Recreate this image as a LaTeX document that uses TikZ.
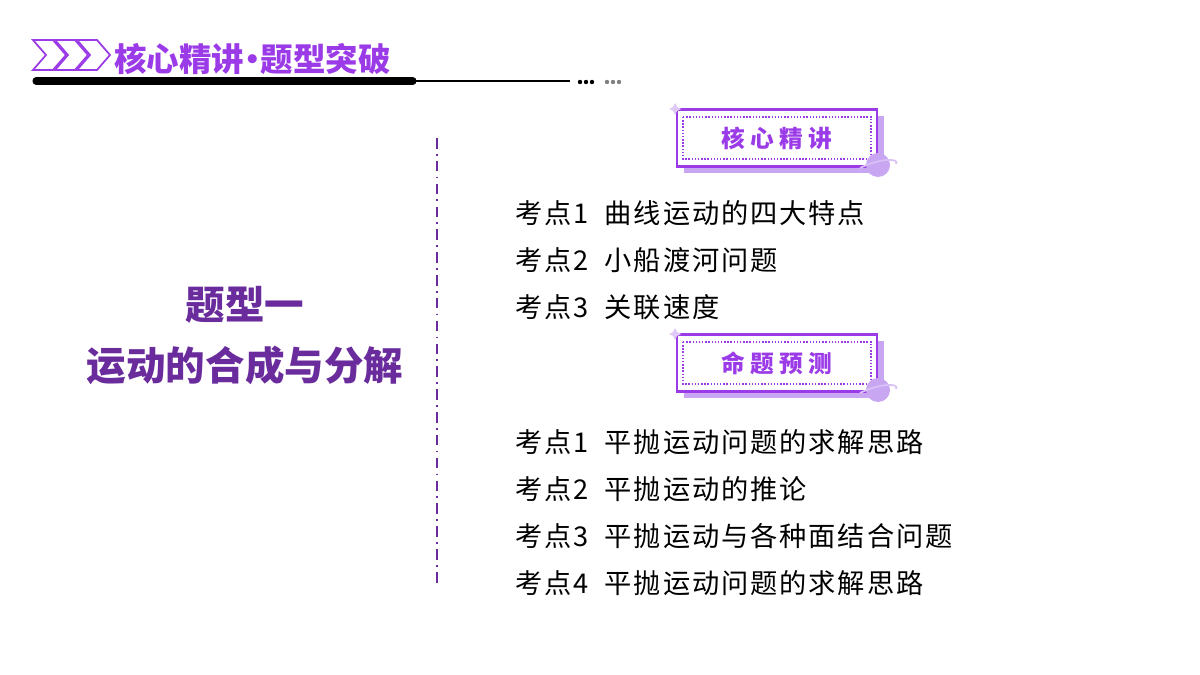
\documentclass[tikz,border=0pt]{standalone}
\usepackage{fontspec}
\setmainfont{Noto Sans CJK SC}
\newfontfamily\itemfont[LetterSpace=7]{Noto Sans CJK SC}
\definecolor{vio}{HTML}{9B3BE8}
\definecolor{dvio}{HTML}{6A2C9C}
\definecolor{lvio}{HTML}{C9A6F2}
\tikzset{
 item/.style={anchor=west,font=\itemfont\fontsize{15.5}{17}\selectfont,inner sep=0},
 badge/.style={draw=vio,line width=1.2pt,fill=white,minimum width=4cm,minimum height=1.14cm},
 btext/.style={font=\fontsize{13.5}{14}\bfseries\selectfont,text=vio},
 big/.style={font=\fontsize{22.5}{24}\bfseries\selectfont,text=dvio},
}
\begin{document}
\begin{tikzpicture}[x=0.02cm,y=-0.02cm]
\useasboundingbox (0,0) rectangle (1200,675);
% chevrons
\foreach \dx in {0,22,44}{
 \draw[vio,line width=1pt] (33+\dx,40)--(53+\dx,40)--(66+\dx,55)--(53+\dx,70)--(33+\dx,70)--(46+\dx,55)--cycle;}
\node[anchor=west,inner sep=0,font=\fontsize{18.5}{20}\bfseries\selectfont,text=vio] (title) at (114,59) {核心精讲\kern-0.25em·\kern-0.25em 题型突破};
\draw[line width=4pt,line cap=round] (36,81)--(413,81);
\draw[line width=1pt] (413,81)--(570,81);
\foreach \x in {580,586,592} \fill (\x,82) circle (2.2);
\foreach \x in {607,613,619} \fill[gray] (\x,82) circle (2.2);
% vertical
\draw[dvio,line width=1.2pt,dash pattern=on 6pt off 3pt on 1pt off 3pt] (437,138)--(437,585);
\node[big] (l1) at (245,305) {题型一};
\node[big] (l2) at (245,365) {运动的合成与分解};
% badges
\foreach \y/\t/\n in {138/核 心 精 讲/b1,363/命 题 预 测/b2}{
 \fill[lvio] (684,\y-22) rectangle (884,\y+35);
 \node[badge] (\n) at (777,\y) {};
 \draw[vio,densely dotted,line width=0.8pt] (683,\y-21) rectangle (871,\y+21);
 \node[btext] at (\n) {\t};
 \fill[lvio] (878,\y+27) circle (12);
 \draw[lvio!70!white,line width=1pt] (860,\y+30) .. controls (880,\y+20) and (900,\y+20) .. (896,\y+26);
 \fill[lvio!60!white] (675,\y-35) -- (677,\y-31) -- (681,\y-29) -- (677,\y-27) -- (675,\y-23) -- (673,\y-27) -- (669,\y-29) -- (673,\y-31) -- cycle;
}
\node[item] (a1) at (515,213) {考点1\ \ 曲线运动的四大特点};
\node[item] (a2) at (515,260) {考点2\ \ 小船渡河问题};
\node[item] (a3) at (515,307) {考点3\ \ 关联速度};
\node[item] (c1) at (515,442) {考点1\ \ 平抛运动问题的求解思路};
\node[item] (c2) at (515,489) {考点2\ \ 平抛运动的推论};
\node[item] (c3) at (515,536) {考点3\ \ 平抛运动与各种面结合问题};
\node[item] (c4) at (515,583) {考点4\ \ 平抛运动问题的求解思路};
\end{tikzpicture}
\end{document}
